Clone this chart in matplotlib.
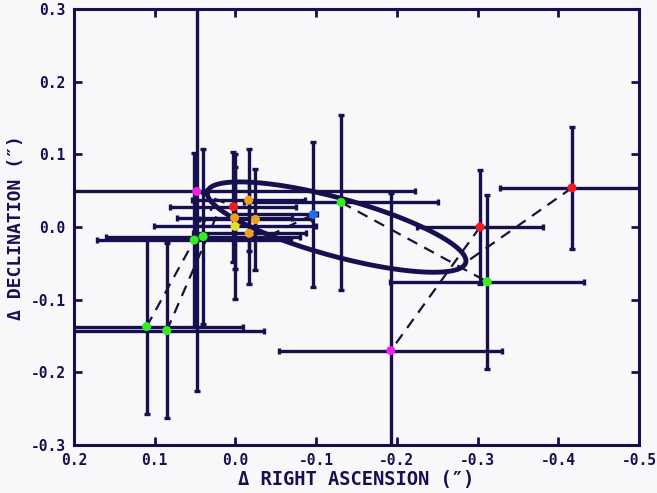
import numpy as np
import matplotlib
matplotlib.use("Agg")
import matplotlib.pyplot as plt

# observed offsets (arcsec) and their errors
ra = [0.048, -0.1925, -0.303, -0.417, -0.312, -0.131, -0.0965, 0.110, 0.085,
      0.051, 0.040, 0.0025, -0.0165, 0.001, -0.0248, -0.017, 0.0004]
dec = [0.049, -0.170, 0.0, 0.054, -0.0753, 0.034, 0.0174, -0.137, -0.1425,
       -0.0178, -0.013, 0.028, 0.037, 0.0128, 0.0105, -0.0086, 0.001]
ra_err_lo = [0.27, 0.138, 0.078, 0.089, 0.12, 0.12, 0.005, 0.12, 0.121,
             0.12, 0.12, 0.078, 0.07, 0.071, 0.07, 0.07, 0.1]
ra_err_hi = [0.27, 0.138, 0.078, 0.089, 0.12, 0.12, 0.1, 0.12, 0.121,
             0.12, 0.12, 0.078, 0.07, 0.071, 0.07, 0.07, 0.1]
dec_err = [0.275, 0.217, 0.079, 0.084, 0.12, 0.12, 0.1, 0.12, 0.12,
           0.12, 0.12, 0.076, 0.07, 0.07, 0.07, 0.07, 0.1]
point_colors = ["#ee22ee", "#ee22ee", "#ee1c24", "#ee1c24", "#33ee22", "#33ee22",
                "#1f6fe8", "#33ee22", "#33ee22", "#33ee22", "#33ee22", "#ee1c24",
                "#f0a020", "#f0a020", "#f0a020", "#f0a020", "#e2e020"]

# residual connectors (observed -> predicted)
dash_x0 = [0.110, 0.085, 0.048, -0.0965, -0.131, -0.303, -0.417]
dash_y0 = [-0.137, -0.1425, 0.049, 0.0174, 0.034, 0.0, 0.054]
dash_x1 = [0.0273, 0.0199, 0.005, -0.0323, -0.312, -0.1925, -0.2857]
dash_y1 = [0.0297, 0.0242, 0.0297, -0.0168, -0.0753, -0.170, -0.0484]

# apparent orbit ellipse
orb_cx, orb_cy = -0.1254, 0.0
orb_a, orb_b = 0.1673, 0.0395
orb_theta = 17.2  # deg

NAVY = "#16104e"

fig = plt.figure(figsize=(6.57, 4.93), dpi=100)
fig.patch.set_facecolor("#f8f8fa")
ax = fig.add_axes([0.1126, 0.0974, 0.86, 0.884])
ax.set_facecolor("#f8f8fa")

ax.errorbar(ra, dec, xerr=[ra_err_lo, ra_err_hi], yerr=dec_err, fmt="none",
            ecolor=NAVY, elinewidth=2.4, capsize=2.5, capthick=2.4, zorder=2)

t = np.linspace(0, 2 * np.pi, 400)
th = np.radians(orb_theta)
ex = orb_cx + orb_a * np.cos(t) * np.cos(th) - orb_b * np.sin(t) * np.sin(th)
ey = orb_cy + orb_a * np.cos(t) * np.sin(th) + orb_b * np.sin(t) * np.cos(th)
ax.plot(ex, ey, color=NAVY, lw=3.5, zorder=3)

for x0, y0, x1, y1 in zip(dash_x0, dash_y0, dash_x1, dash_y1):
    ax.plot([x0, x1], [y0, y1], color="#1a1238", lw=1.6,
            linestyle=(0, (5, 3.5)), zorder=4)

ax.scatter(ra, dec, c=point_colors, s=42, edgecolors="none", zorder=5)

ax.set_xlim(0.2, -0.5)
ax.set_ylim(-0.3, 0.3)
ticks_x = np.arange(0.2, -0.51, -0.1)
ticks_y = np.arange(-0.3, 0.31, 0.1)
ax.set_xticks(ticks_x)
ax.set_yticks(ticks_y)
ax.set_xticklabels([f"{v:.1f}".replace("-0.0", "0.0") for v in ticks_x])
ax.set_yticklabels([f"{v:.1f}".replace("-0.0", "0.0") for v in ticks_y])
ax.tick_params(direction="in", length=6, width=2, color=NAVY,
               top=True, right=True, labelsize=10.5, labelcolor=NAVY, pad=6)
for lab in ax.get_xticklabels() + ax.get_yticklabels():
    lab.set_fontfamily("DejaVu Sans Mono")
    lab.set_fontweight("bold")
for sp in ax.spines.values():
    sp.set_linewidth(2.2)
    sp.set_color(NAVY)

ax.set_xlabel("Δ RIGHT ASCENSION (″)", fontsize=13.5, color=NAVY,
              fontfamily="DejaVu Sans Mono", fontweight="bold", labelpad=1)
ax.set_ylabel("Δ DECLINATION (″)", fontsize=13, color=NAVY,
              fontfamily="DejaVu Sans Mono", fontweight="bold", labelpad=4)

fig.savefig("out.png", dpi=100, facecolor=fig.get_facecolor())
